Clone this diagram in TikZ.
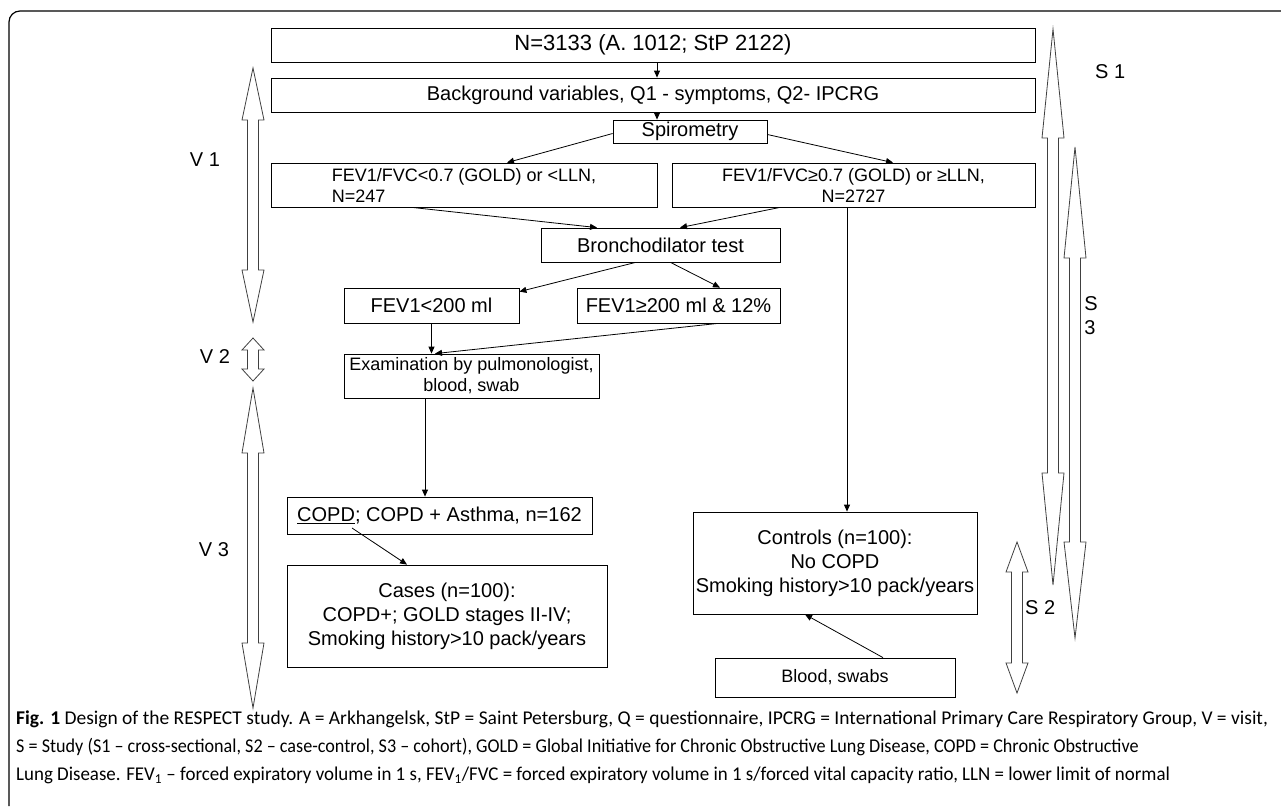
\documentclass[tikz,border=0pt]{standalone}
\usepackage{fontspec}
\setmainfont{Liberation Sans}
\newfontfamily\capfont{Carlito}
\usetikzlibrary{arrows.meta}
% hollow double arrow: x, top tip, bottom tip, top head, bottom head
\newcommand{\spanarrow}[5]{%
\draw [span] (#1,#2) -- (#1+11,#2+#4) -- (#1+5.5,#2+#4) -- (#1+5.5,#3-#5) -- (#1+11,#3-#5)
  -- (#1,#3) -- (#1-11,#3-#5) -- (#1-5.5,#3-#5) -- (#1-5.5,#2+#4) -- (#1-11,#2+#4) -- cycle;}
\begin{document}
\begin{tikzpicture}[x=1pt, y=-1pt,
  every node/.style={inner sep=0pt},
  box/.style={draw, line width=0.8pt, align=center},
  huge/.style={font=\fontsize{22}{26}\selectfont},
  big/.style={font=\fontsize{20}{24}\selectfont},
  small/.style={font=\fontsize{18}{21}\selectfont},
  flow/.style={-{Triangle[length=7pt,width=6pt]}, line width=0.8pt},
  span/.style={draw=black!75, line width=0.8pt},
  caption/.style={anchor=west, font=\capfont\fontsize{19.5}{23}\selectfont}]
\useasboundingbox (0,0) rectangle (1281,806);
\draw [line width=1.2pt, rounded corners=11pt] (1281,11) -- (9,11) -- (9,806);
% flow chart
\node [box, huge, minimum width=764pt, minimum height=34pt] (total) at (653,45) {N=3133 (A. 1012; StP 2122)};
\node [box, big, minimum width=764pt, minimum height=34pt] (background) at (653,95) {Background variables, Q1 - symptoms, Q2- IPCRG};
\node [box, big, minimum width=154pt, minimum height=23pt] (spiro) at (690,131.5) {Spirometry};
\node [box, small, align=left, minimum width=386pt, minimum height=44pt] (lowfev) at (464,185) {FEV1/FVC<0.7 (GOLD) or <LLN,\\N=247};
\node [box, small, minimum width=363pt, minimum height=44pt] (highfev) at (853.5,185) {FEV1/FVC≥0.7 (GOLD) or ≥LLN,\\N=2727};
\node [box, big, minimum width=239pt, minimum height=34pt] (bronch) at (660.5,245) {Bronchodilator test};
\node [box, big, minimum width=175pt, minimum height=35pt] (lowbd) at (431.5,305.5) {FEV1<200 ml};
\node [box, big, minimum width=203pt, minimum height=35pt] (highbd) at (678.5,305.5) {FEV1≥200 ml \& 12\%};
\node [box, small, minimum width=255pt, minimum height=44pt] (exam) at (471.5,376) {Examination by pulmonologist,\\blood, swab};
\node [box, big, minimum width=305pt, minimum height=37pt] (copd) at (439.5,515.5) {\underline{COPD}; COPD + Asthma, n=162};
\node [box, big, minimum width=320pt, minimum height=102pt] (cases) at (447,616) {Cases (n=100):\\COPD+; GOLD stages II-IV;\\Smoking history>10 pack/years};
\node [box, big, minimum width=284pt, minimum height=102pt] (controls) at (835,563) {Controls (n=100):\\No COPD\\Smoking history>10 pack/years};
\node [box, small, minimum width=240pt, minimum height=39pt] (blood) at (835,677.5) {Blood, swabs};
\draw [flow] ([xshift=4pt]total.south) -- ([xshift=4pt]background.north);
\draw [flow] ([xshift=4pt]background.south) -- ([xshift=-33pt]spiro.north);
\draw [flow] ([yshift=-2pt]spiro.west) -- ([xshift=43pt]lowfev.north);
\draw [flow] ([yshift=-3pt]spiro.east) -- ([xshift=39.5pt]highfev.north);
\draw [flow] ([xshift=-52pt]lowfev.south) -- ([xshift=-63.5pt]bronch.north);
\draw [flow] ([xshift=-73.5pt]highfev.south) -- ([xshift=19.5pt]bronch.north);
\draw [flow] ([xshift=-6.5pt]highfev.south) -- ([xshift=12pt]controls.north);
\draw [flow] ([xshift=-25pt]bronch.south) -- ([yshift=-4pt]lowbd.north east);
\draw [flow] ([xshift=10pt]bronch.south) -- ([xshift=41.5pt]highbd.north);
\draw [flow] (lowbd.south) -- (lowbd.south |- exam.north);
\draw [flow] ([xshift=39.5pt]highbd.south) -- ([xshift=-36.5pt]exam.north);
\draw [flow] ([xshift=-46.5pt]exam.south) -- ([xshift=-14.5pt]copd.north);
\draw [flow] ([xshift=-87.5pt,yshift=-12.5pt]copd.center) -- ([xshift=-40pt]cases.north);
\draw [flow] ([xshift=48pt]blood.north) -- ([xshift=-30pt]controls.south);
% visits and studies
\spanarrow{253}{68}{322}{52}{52}
\spanarrow{253}{338}{381}{12}{12}
\spanarrow{253}{388}{708}{65}{65}
\spanarrow{1053}{29}{585}{109}{112}
\spanarrow{1075}{147}{638}{111}{96}
\spanarrow{1017}{542}{693}{30}{30}
\node [big] (v1) at (205,160) {V 1};
\node [big] (v2) at (215,357) {V 2};
\node [big] (v3) at (214,550) {V 3};
\node [big, anchor=west] (s1) at (1095,72) {S 1};
\node [big, anchor=west] (s2) at (1025,608) {S 2};
\node [big, align=left] (s3) at (1091,316) {S\\3};
% caption
\node [caption] (cap1) at (16,719) {\textbf{Fig. 1} Design of the RESPECT study. A = Arkhangelsk, StP = Saint Petersburg, Q = questionnaire, IPCRG = International Primary Care Respiratory Group, V = visit,};
\node [caption] (cap2) at (16,747) {\scalebox{0.93}[1]{S = Study (S1 – cross-sectional, S2 – case-control, S3 – cohort), GOLD = Global Initiative for Chronic Obstructive Lung Disease, COPD = Chronic Obstructive}};
\node [caption] (cap3) at (16,775) {\scalebox{0.97}[1]{Lung Disease. FEV\textsubscript{1} – forced expiratory volume in 1 s, FEV\textsubscript{1}/FVC = forced expiratory volume in 1 s/forced vital capacity ratio, LLN = lower limit of normal}};
\end{tikzpicture}
\end{document}
